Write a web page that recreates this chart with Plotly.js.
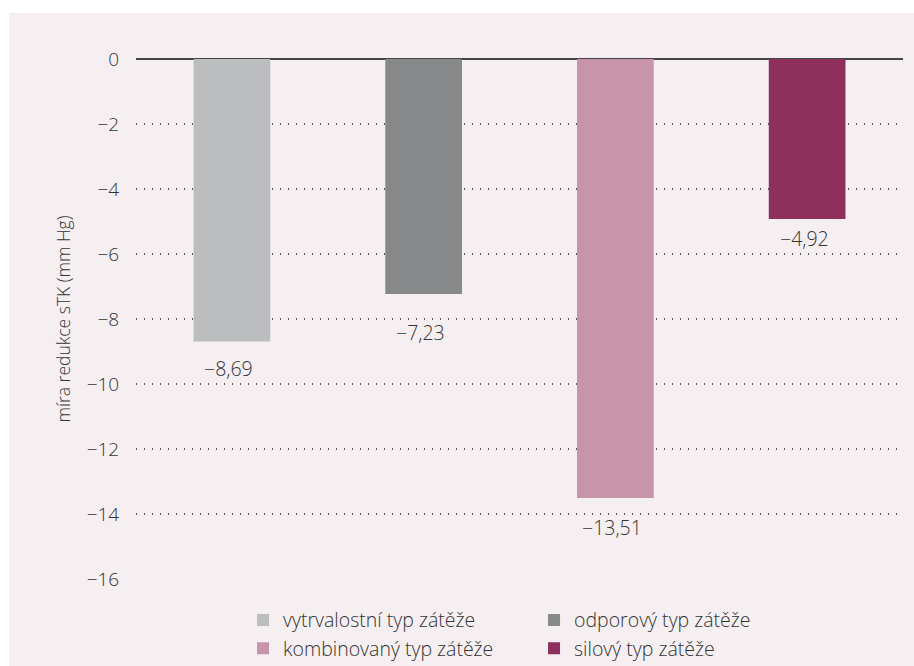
<!DOCTYPE html>
<html>
<head>
<meta charset="utf-8">
<script src="https://cdn.plot.ly/plotly-3.0.1.min.js"></script>
<style>
html,body{margin:0;padding:0;background:#ffffff;}
#chart{position:absolute;left:9px;top:13px;width:905px;height:653px;}
</style>
</head>
<body>
<div id="chart"></div>
<script>
var categories = ["vytrvalostní typ zátěže", "odporový typ zátěže", "kombinovaný typ zátěže", "silový typ zátěže"];
var values = [-8.69, -7.23, -13.51, -4.92];
var colors = ["#bcbdbf", "#87888a", "#c894aa", "#8e2f5c"];
var yTicks = [0, -2, -4, -6, -8, -10, -12, -14, -16];
var yTitle = "míra redukce sTK (mm Hg)";
// pixel offsets of the value labels below the bar ends (style only)
var labelShift = [-27, -39, -29, -20];

function fmt(v){
  var s = Math.abs(v).toFixed(2).replace(".", ",");
  return (v < 0 ? "\u2212" : "") + s;
}
function mkFont(sz){ return {family: "Open Sans, sans-serif", size: sz, color: "#333333", weight: 300}; }

var traces = categories.map(function(c, i){
  return {
    type: "bar",
    name: c,
    x: [c],
    y: [values[i]],
    width: 0.4,
    marker: {color: colors[i]},
    cliponaxis: false,
    hoverinfo: "none"
  };
});

var annotations = categories.map(function(c, i){
  return {
    x: c, y: values[i], xref: "x", yref: "y",
    text: fmt(values[i]),
    showarrow: false,
    yanchor: "middle", xanchor: "center",
    xshift: -3,
    yshift: labelShift[i],
    font: mkFont(19.5)
  };
});

var layout = {
  width: 905, height: 653,
  margin: {l: 127, r: 11, t: 45, b: 86, autoexpand: false},
  paper_bgcolor: "#f5eff1",
  plot_bgcolor: "#f5eff1",
  barmode: "overlay",
  showlegend: true,
  font: mkFont(18),
  annotations: annotations,
  xaxis: {
    showticklabels: false, showgrid: false, zeroline: false, showline: false,
    type: "category", categoryarray: categories, range: [-0.5, 3.5]
  },
  yaxis: {
    range: [-16.03, 0.03],
    tickvals: yTicks,
    ticktext: yTicks.map(function(v){ return v < 0 ? "\u2212" + Math.abs(v) : String(v); }),
    showgrid: true, gridcolor: "#555555", griddash: "1px,7px", gridwidth: 1.2,
    zeroline: true, zerolinecolor: "#444444", zerolinewidth: 1.6,
    showline: false,
    ticks: "outside", ticklen: 12, tickcolor: "rgba(0,0,0,0)",
    tickfont: mkFont(19),
    automargin: false,
    title: {text: yTitle, font: mkFont(17.5), standoff: 11}
  },
  legend: {
    orientation: "h",
    xref: "container", yref: "container",
    x: 0.2586, xanchor: "left",
    y: 0.1, yanchor: "top",
    entrywidth: 246, entrywidthmode: "pixels",
    font: mkFont(19.5),
    bgcolor: "rgba(0,0,0,0)",
    traceorder: "normal",
    tracegroupgap: 0
  }
};

Plotly.newPlot("chart", traces, layout, {displayModeBar: false, staticPlot: true});
</script>
</body>
</html>
